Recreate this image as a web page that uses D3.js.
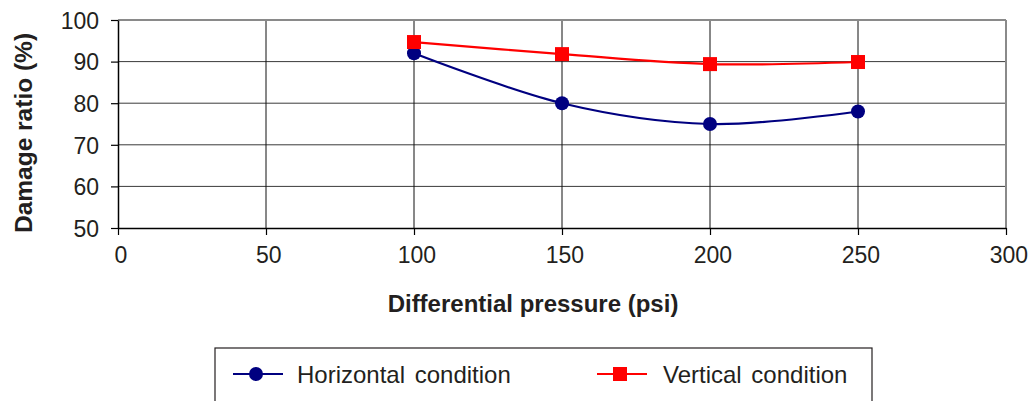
<!DOCTYPE html>
<html>
<head>
<meta charset="utf-8">
<script src="https://cdn.jsdelivr.net/npm/d3@7"></script>
<style>
  body { margin: 0; background: #fff; }
  text { font-family: "Liberation Sans", Arial, sans-serif; fill: #231f20; }
</style>
</head>
<body>
<svg id="chart" width="1029" height="401"></svg>
<script>
// Data
const pressures = [100, 150, 200, 250];
const horizontalValues = [92, 80, 75, 78];
const verticalValues = [94.7, 91.8, 89.4, 89.9];
const seriesNames = ["Horizontal condition", "Vertical condition"];
const xTicks = [0, 50, 100, 150, 200, 250, 300];
const yTicks = [50, 60, 70, 80, 90, 100];

const margin = {top: 20, left: 118, right: 23, bottom: 173};
const svg = d3.select("#chart");
const width = 1029 - margin.left - margin.right;
const height = 401 - margin.top - margin.bottom;

const chart = svg.append("g")
  .attr("transform", `translate(${margin.left},${margin.top})`);

const xScale = d3.scaleLinear().domain([0, 300]).range([0, width]);
const yScale = d3.scaleLinear().domain([50, 100]).range([height, 0]);

// Grid lines
chart.append("g")
  .selectAll("line")
  .data(yTicks.slice(1, -1))
  .join("line")
  .attr("x1", 0).attr("x2", width)
  .attr("y1", d => yScale(d)).attr("y2", d => yScale(d))
  .attr("stroke", "#3a3a3a").attr("stroke-width", 1);

chart.append("g")
  .selectAll("line")
  .data(xTicks.slice(1, -1))
  .join("line")
  .attr("x1", d => xScale(d)).attr("x2", d => xScale(d))
  .attr("y1", 0).attr("y2", height)
  .attr("stroke", "#111").attr("stroke-width", 1);

// Plot border (top / right in grey)
chart.append("line").attr("x1", 0).attr("x2", width).attr("y1", 0).attr("y2", 0)
  .attr("stroke", "#8a8a8a").attr("stroke-width", 2);
chart.append("line").attr("x1", width).attr("x2", width).attr("y1", 0).attr("y2", height)
  .attr("stroke", "#8a8a8a").attr("stroke-width", 2);

// Axes
const xAxis = d3.axisBottom(xScale).tickValues(xTicks).tickSize(7).tickSizeOuter(0);
const yAxis = d3.axisLeft(yScale).tickValues(yTicks).tickSize(7).tickSizeOuter(0);

const xAxisG = chart.append("g")
  .attr("transform", `translate(0,${height})`)
  .call(xAxis);
xAxisG.selectAll("text").attr("font-size", 23).attr("y", 35).attr("dy", 0).attr("dx", "0.1em");

const yAxisG = chart.append("g").call(yAxis);
yAxisG.selectAll("text").attr("font-size", 23).attr("x", -19).attr("dy", "0.36em");

[xAxisG, yAxisG].forEach(g => {
  g.select(".domain").attr("stroke", "#000").attr("stroke-width", 1.5);
  g.selectAll(".tick line").attr("stroke", "#000").attr("stroke-width", 1.2);
  g.selectAll("text").attr("fill", "#231f20").attr("font-family", "Liberation Sans, Arial, sans-serif");
});

// Axis titles
svg.append("text")
  .attr("transform", `translate(32,133) rotate(-90)`)
  .attr("text-anchor", "middle")
  .attr("font-size", 24.5)
  .attr("font-weight", "bold")
  .text("Damage ratio (%)");

svg.append("text")
  .attr("x", 533)
  .attr("y", 312)
  .attr("text-anchor", "middle")
  .attr("font-size", 24)
  .attr("font-weight", "bold")
  .text("Differential pressure (psi)");

// Series
const series = [
  {name: seriesNames[0], values: horizontalValues, color: "#000080", marker: "circle"},
  {name: seriesNames[1], values: verticalValues, color: "#ff0000", marker: "square"}
];

const line = d3.line()
  .x(d => xScale(d[0]))
  .y(d => yScale(d[1]))
  .curve(d3.curveCatmullRom.alpha(0));

function drawMarker(g, type, color, x, y) {
  if (type === "circle") {
    g.append("circle").attr("cx", x).attr("cy", y).attr("r", 7).attr("fill", color);
  } else {
    g.append("rect").attr("x", x - 7).attr("y", y - 7).attr("width", 14).attr("height", 14)
      .attr("fill", color);
  }
}

series.forEach(s => {
  const pts = pressures.map((p, i) => [p, s.values[i]]);
  chart.append("path")
    .datum(pts)
    .attr("d", line)
    .attr("fill", "none")
    .attr("stroke", s.color)
    .attr("stroke-width", 2.2);
  const mg = chart.append("g");
  pts.forEach(d => drawMarker(mg, s.marker, s.color, xScale(d[0]), yScale(d[1])));
});

// Legend
const legend = svg.append("g");
legend.append("rect")
  .attr("x", 215).attr("y", 348)
  .attr("width", 657).attr("height", 60)
  .attr("fill", "#fff")
  .attr("stroke", "#231f20").attr("stroke-width", 1.2);

const legendItems = [
  {x: 233, textX: 297},
  {x: 597, textX: 663}
];
series.forEach((s, i) => {
  const li = legendItems[i];
  legend.append("line")
    .attr("x1", li.x).attr("x2", li.x + 50)
    .attr("y1", 374).attr("y2", 374)
    .attr("stroke", s.color).attr("stroke-width", 2.2);
  drawMarker(legend, s.marker, s.color, li.x + 23, 374);
  legend.append("text")
    .attr("x", li.textX).attr("y", 383)
    .attr("font-size", 24)
    .attr("word-spacing", 3)
    .text(s.name);
});
</script>
</body>
</html>
